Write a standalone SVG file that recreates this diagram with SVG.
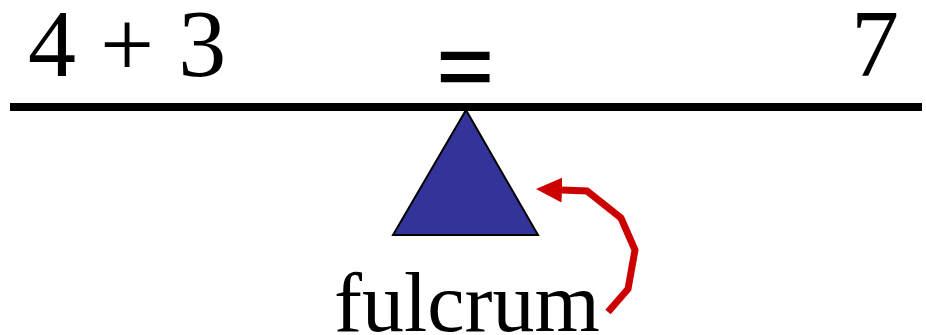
<svg xmlns="http://www.w3.org/2000/svg" width="926" height="335" viewBox="0 0 926 335">
<style>
.t{font-family:"Liberation Serif","Times New Roman",serif;fill:#000}
</style>
<defs>
<marker id="ah" markerUnits="userSpaceOnUse" markerWidth="26" markerHeight="26" refX="0" refY="11.5" orient="auto" viewBox="0 0 24 23">
<polygon points="0,0 24,11.5 0,23" fill="#CC0000"/>
</marker>
</defs>
<g id="beam"><line x1="10" y1="107" x2="922" y2="107" stroke="#000" stroke-width="8"/></g>
<g id="lhs"><text class="t" x="28" y="76" font-size="96">4 + 3</text></g>
<g id="eq"><text class="t" font-size="96" stroke="#000" stroke-width="2.2" transform="translate(437,104) scale(1.04,1.16)">=</text></g>
<g id="rhs"><text class="t" x="851" y="76" font-size="96">7</text></g>
<g id="fulcrum-shape"><polygon points="466,110 538,235 393,235" fill="#333399" stroke="#000" stroke-width="2"/></g>
<g id="label"><text class="t" x="334" y="331" font-size="84">fulcrum</text></g>
<g id="connectors">
<polyline points="608,312 628,289 635,250 621,218 587,191 562,190" fill="none" stroke="#CC0000" stroke-width="7" marker-end="url(#ah)"/>
</g>
</svg>
